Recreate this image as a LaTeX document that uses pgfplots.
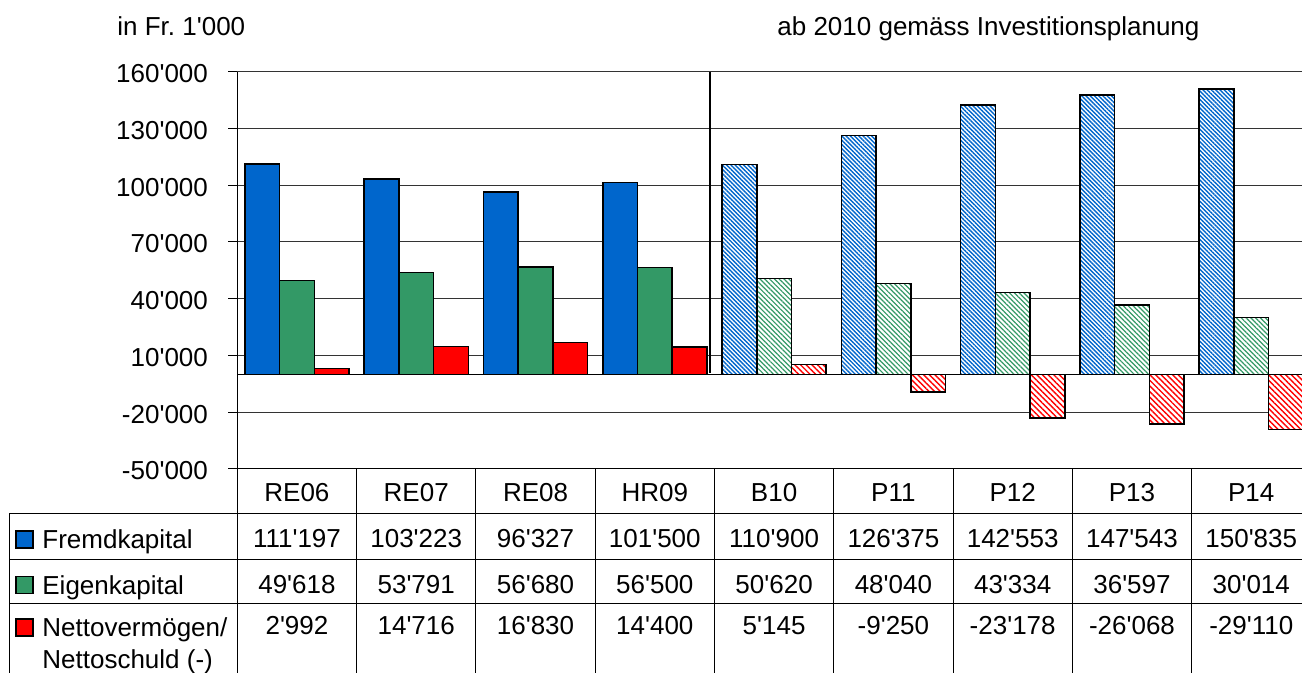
\documentclass[border=0pt]{standalone}
\usepackage{pgfplots}
\pgfplotsset{compat=1.18}
\usepackage{pgfplotstable}
\usetikzlibrary{patterns.meta}
\usepackage{fontspec}
\newfontfamily\arial{Liberation Sans}
\definecolor{cfk}{RGB}{0,102,204}
\definecolor{cek}{RGB}{51,153,102}
\definecolor{cnv}{RGB}{255,0,0}
\frenchspacing

\pgfplotstableread{
x fk ek nv
0 111197 49618 2992
1 103223 53791 14716
2 96327 56680 16830
3 101500 56500 14400
4 110900 50620 5145
5 126375 48040 -9250
6 142553 43334 -23178
7 147543 36597 -26068
8 150835 30014 -29110
}\datatable

\begin{document}
\arial\fontsize{13}{15.6}\selectfont
\begin{tikzpicture}
\useasboundingbox (0,0) rectangle (651pt,336.5pt);
\begin{axis}[
  at={(118.65pt,102pt)}, anchor=south west,
  scale only axis, width=532.35pt, height=198.65pt,
  xmin=-0.5, xmax=8.425, ymin=-50000, ymax=160000,
  axis x line*=bottom, axis y line*=left,
  xtick=\empty,
  scaled y ticks=false,
  ytick={-50000,-20000,10000,40000,70000,100000,130000,160000},
  yticklabels={-50'000,-20'000,10'000,40'000,70'000,100'000,130'000,160'000},
  ymajorgrids, grid style={black!80, line width=0.5pt},
  tick align=outside, major tick length=4.5pt, ytick pos=left,
  tick style={black, line width=0.5pt},
  axis line style={black, line width=0.5pt},
  yticklabel style={anchor=east, inner sep=0pt, xshift=-10pt, yshift=-1pt},
  extra y ticks={0}, extra y tick labels={},
  extra y tick style={grid=major, major grid style={black, line width=0.5pt}, major tick length=0pt},
]
% actual values (solid)
\addplot[ybar, bar width=0.291, bar shift=-0.291, fill=cfk, draw=black, line width=0.75pt, restrict x to domain=0:3] table[x=x,y=fk]{\datatable};
\addplot[ybar, bar width=0.291, bar shift=0, fill=cek, draw=black, line width=0.75pt, restrict x to domain=0:3] table[x=x,y=ek]{\datatable};
\addplot[ybar, bar width=0.291, bar shift=0.291, fill=cnv, draw=black, line width=0.75pt, restrict x to domain=0:3] table[x=x,y=nv]{\datatable};
% planned values (hatched)
\addplot[ybar, bar width=0.291, bar shift=-0.291, preaction={fill=white}, pattern={Lines[angle=-45,distance=1.5pt,line width=0.7pt]}, pattern color=cfk, draw=black, line width=0.8pt, restrict x to domain=4:8] table[x=x,y=fk]{\datatable};
\addplot[ybar, bar width=0.291, bar shift=0, preaction={fill=white}, pattern={Lines[angle=-45,distance=1.7pt,line width=0.6pt]}, pattern color=cek, draw=black, line width=0.8pt, restrict x to domain=4:8] table[x=x,y=ek]{\datatable};
\addplot[ybar, bar width=0.291, bar shift=0.291, preaction={fill=white}, pattern={Lines[angle=-45,distance=2pt,line width=0.7pt]}, pattern color=cnv, draw=black, line width=0.8pt, restrict x to domain=4:8] table[x=x,y=nv]{\datatable};
\draw[black, line width=1pt] (axis cs:3.46,160000) -- (axis cs:3.46,1000);
\end{axis}

\begin{scope}[x=0.5pt, y=-0.5pt, yshift=336.5pt]
  \node[anchor=base west, inner sep=0pt] at (117,36) {in Fr. 1'000};
  \node[anchor=base west, inner sep=0pt] at (777,36) {ab 2010 gemäss Investitionsplanung};
  % table grid
  \draw[black, line width=0.5pt] (9,514) -- (1302,514);
  \draw[black, line width=0.5pt] (9,559.5) -- (1302,559.5);
  \draw[black, line width=0.5pt] (9,603.3) -- (1302,603.3);
  \draw[black, line width=0.5pt] (9,514) -- (9,673);
  \draw[black, line width=0.5pt] (237.3,469) -- (237.3,673);
  \foreach \k in {1,...,8} {
    \draw[black, line width=0.5pt] ({237.3+119.29*\k},469) -- ({237.3+119.29*\k},673);
  }
  % legend keys
  \draw[fill=cfk, line width=0.75pt] (16,531) rectangle (33,548);
  \draw[fill=cek, line width=0.75pt] (16,576.5) rectangle (33,593.5);
  \draw[fill=cnv, line width=0.75pt] (16,619) rectangle (33,636);
  \node[anchor=base west, inner sep=0pt] at (42,549) {Fremdkapital};
  \node[anchor=base west, inner sep=0pt] at (42,594.5) {Eigenkapital};
  \node[anchor=base west, inner sep=0pt] at (42,636.5) {Nettovermögen/};
  \node[anchor=base west, inner sep=0pt] at (42,668.5) {Nettoschuld (-)};
  % table values
  \foreach \i/\c/\a/\b/\n in {
    0/RE06/111'197/49'618/2'992,
    1/RE07/103'223/53'791/14'716,
    2/RE08/96'327/56'680/16'830,
    3/HR09/101'500/56'500/14'400,
    4/B10/110'900/50'620/5'145,
    5/P11/126'375/48'040/-9'250,
    6/P12/142'553/43'334/-23'178,
    7/P13/147'543/36'597/-26'068,
    8/P14/150'835/30'014/-29'110} {
    \node[anchor=base, inner sep=0pt] at ({237.3+119.29*(\i+0.5)},501.7) {\c};
    \node[anchor=base, inner sep=0pt] at ({237.3+119.29*(\i+0.5)},548) {\a};
    \node[anchor=base, inner sep=0pt] at ({237.3+119.29*(\i+0.5)},593.5) {\b};
    \node[anchor=base, inner sep=0pt] at ({237.3+119.29*(\i+0.5)},635) {\n};
  }
\end{scope}
\end{tikzpicture}
\end{document}
